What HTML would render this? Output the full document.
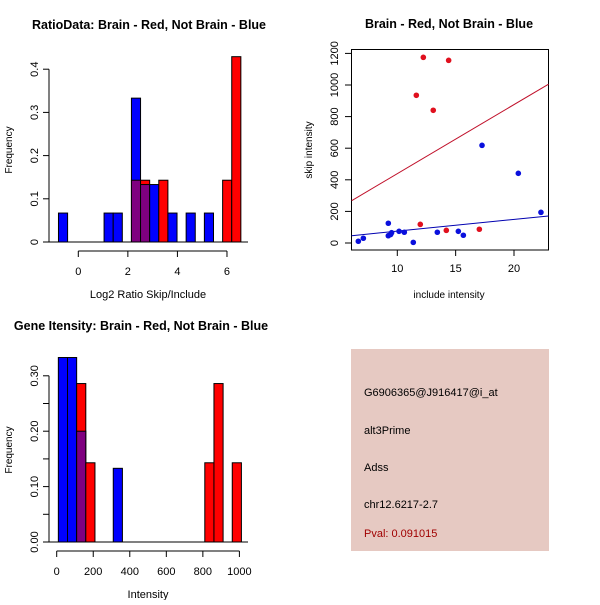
<!DOCTYPE html>
<html><head><meta charset="utf-8"><style>
body{margin:0;background:#fff;width:600px;height:600px;overflow:hidden}
svg{font-family:"Liberation Sans",sans-serif}
</style></head><body>
<svg id="s" width="600" height="600" xmlns="http://www.w3.org/2000/svg">
<rect x="351" y="349" width="198" height="202" fill="#e6c9c2"/>
<g font-size="11" fill="#000">
<text x="364" y="396">G6906365@J916417@i_at</text>
<text x="364" y="434">alt3Prime</text>
<text x="364" y="471">Adss</text>
<text x="364" y="508">chr12.6217-2.7</text>
<text x="364" y="537" fill="#a00000">Pval: 0.091015</text>
</g>
</svg>
<script>
// Ratio histogram data
const ratioBinStart = -0.8, ratioBinWidth = 0.368;
const ratioBlue = [0.067,0,0,0,0,0.067,0.067,0,0.333,0.133,0.133,0,0.067,0,0.067,0,0.067,0,0,0];
const ratioRed  = [0,0,0,0,0,0,0,0,0.143,0.143,0,0.143,0,0,0,0,0,0,0.143,0.429];
const ratioXTicks = [0,2,4,6];
const ratioYTicks = [0,0.1,0.2,0.3,0.4];
// Intensity histogram data
const intBinStart = 9, intBinWidth = 50.1;
const intBlue = [0.333,0.333,0.2,0,0,0,0.133,0,0,0,0,0,0,0,0,0,0,0,0,0];
const intRed  = [0,0,0.286,0.143,0,0,0,0,0,0,0,0,0,0,0,0,0.143,0.286,0,0.143];
const intXTicks = [0,200,400,600,800,1000];
const intYTicks = [0,0.05,0.10,0.15,0.20,0.25,0.30];
const intYLabels = ["0.00","","0.10","","0.20","","0.30"];
// Scatter data
const redX = [12.23,14.4,11.63,13.08,11.97,14.2,17.03];
const redY = [1175,1156,935,840,118,80,87];
const blueX = [17.26,20.37,22.31,6.66,7.09,9.23,9.23,9.43,9.51,10.15,10.6,11.37,13.43,15.23,15.66];
const blueY = [618,441,194,11,30,125,46,54,65,74,68,4,68,74,49];
const redFit = [2,43.7];
const blueFit = [1,7.41];
const scXTicks = [10,15,20];
const scYTicks = [0,200,400,600,800,1000,1200];

const NS="http://www.w3.org/2000/svg", svg=document.getElementById('s');
function mk(tag,attrs,parent){const e=document.createElementNS(NS,tag);for(const k in attrs)e.setAttribute(k,attrs[k]);(parent||svg).appendChild(e);return e;}
function txt(x,y,s,extra){const t=mk('text',Object.assign({x:x,y:y,'font-size':11,'text-anchor':'middle'},extra||{}));t.textContent=s;return t;}

function hist(o){
  const X=v=>o.x0+(v-o.xv0)*o.xs, Y=v=>o.y0-v*o.ys;
  const n=o.blue.length;
  for(let i=0;i<n;i++){
    const a=o.start+i*o.w,b=a+o.w,bl=o.blue[i],rd=o.red[i];
    const lo=Math.min(bl,rd),hi=Math.max(bl,rd);
    if(hi<=0)continue;
    const x=X(a),wd=X(b)-X(a);
    const top=mk('rect',{x:x,y:Y(hi),width:wd,height:Y(0)-Y(hi),fill:bl>rd?'#0000ff':'#ff0000',stroke:'#000','stroke-width':1});
    
    
    if(lo>0){const p=mk('rect',{x:x,y:Y(lo),width:wd,height:Y(0)-Y(lo),fill:'#7f0080',stroke:'#000','stroke-width':1});
      
      }
  }
  mk('line',{x1:49,x2:248,y1:o.y0,y2:o.y0,stroke:'#000'});
  const yt=o.yticks;
  const ya=mk('line',{x1:49,x2:49,y1:Y(yt[0]),y2:Y(yt[yt.length-1]),stroke:'#000'});
  
  
  yt.forEach((v,i)=>{mk('line',{x1:43,x2:49,y1:Y(v),y2:Y(v),stroke:'#000'});
    const l=o.ylabels?o.ylabels[i]:String(v);
    if(l){txt(38,Y(v),l,{transform:`rotate(-90 38 ${Y(v)})`});}
  });
  const xt=o.xticks, ay=o.y0+9;
  const xa=mk('line',{x1:X(xt[0]),x2:X(xt[xt.length-1]),y1:ay,y2:ay,stroke:'#000'});
  
  
  xt.forEach(v=>{mk('line',{x1:X(v),x2:X(v),y1:ay,y2:ay+6,stroke:'#000'});txt(X(v),ay+24,String(v));});
  txt(148,o.y0+56,o.xlabel);
  const f=txt(12,o.y0-92,'Frequency',{transform:`rotate(-90 12 ${o.y0-92})`,'font-size':10});
  
  const tt=txt(o.tx,o.ty,o.title,{'font-size':12.5,'font-weight':'bold'});
  
}
hist({id:'ratio',x0:78.3,xv0:0,xs:24.78,y0:242,ys:432,start:ratioBinStart,w:ratioBinWidth,blue:ratioBlue,red:ratioRed,xticks:ratioXTicks,yticks:ratioYTicks,xlabel:'Log2 Ratio Skip/Include',title:'RatioData: Brain - Red, Not Brain - Blue',tx:149,ty:29});
hist({id:'intensity',x0:56.7,xv0:0,xs:0.1827,y0:542,ys:554,start:intBinStart,w:intBinWidth,blue:intBlue,red:intRed,xticks:intXTicks,yticks:intYTicks,ylabels:intYLabels,xlabel:'Intensity',title:'Gene Itensity: Brain - Red, Not Brain - Blue',tx:141,ty:330});

// scatter
const SX=v=>397.3+(v-10)*11.67, SY=v=>243-v*0.158;
const xmin=6.09,xmax=22.96;
mk('rect',{x:351.5,y:49.5,width:197,height:200.5,fill:'none',stroke:'#000'});
scYTicks.forEach(v=>{mk('line',{x1:345,x2:351.5,y1:SY(v),y2:SY(v),stroke:'#000'});txt(338,SY(v),String(v),{transform:`rotate(-90 338 ${SY(v)})`});});
scXTicks.forEach(v=>{mk('line',{x1:SX(v),x2:SX(v),y1:250,y2:256,stroke:'#000'});txt(SX(v),272,String(v));});
txt(449,298,'include intensity',{'font-size':10});
txt(312,150,'skip intensity',{transform:'rotate(-90 312 150)','font-size':10});
txt(449,28,'Brain - Red, Not Brain - Blue',{'font-size':12.5,'font-weight':'bold'});
const rl=mk('line',{x1:SX(xmin),y1:SY(redFit[0]+redFit[1]*xmin),x2:SX(xmax),y2:SY(redFit[0]+redFit[1]*xmax),stroke:'#c0102a'});


const bln=mk('line',{x1:SX(xmin),y1:SY(blueFit[0]+blueFit[1]*xmin),x2:SX(xmax),y2:SY(blueFit[0]+blueFit[1]*xmax),stroke:'#0000b0'});


blueX.forEach((x,i)=>{const c=mk('circle',{cx:SX(x),cy:SY(blueY[i]),r:2.8,fill:'#0a10dd'});
  
  });
redX.forEach((x,i)=>{const c=mk('circle',{cx:SX(x),cy:SY(redY[i]),r:2.8,fill:'#e0101e'});
  
  });
</script>
</body></html>
